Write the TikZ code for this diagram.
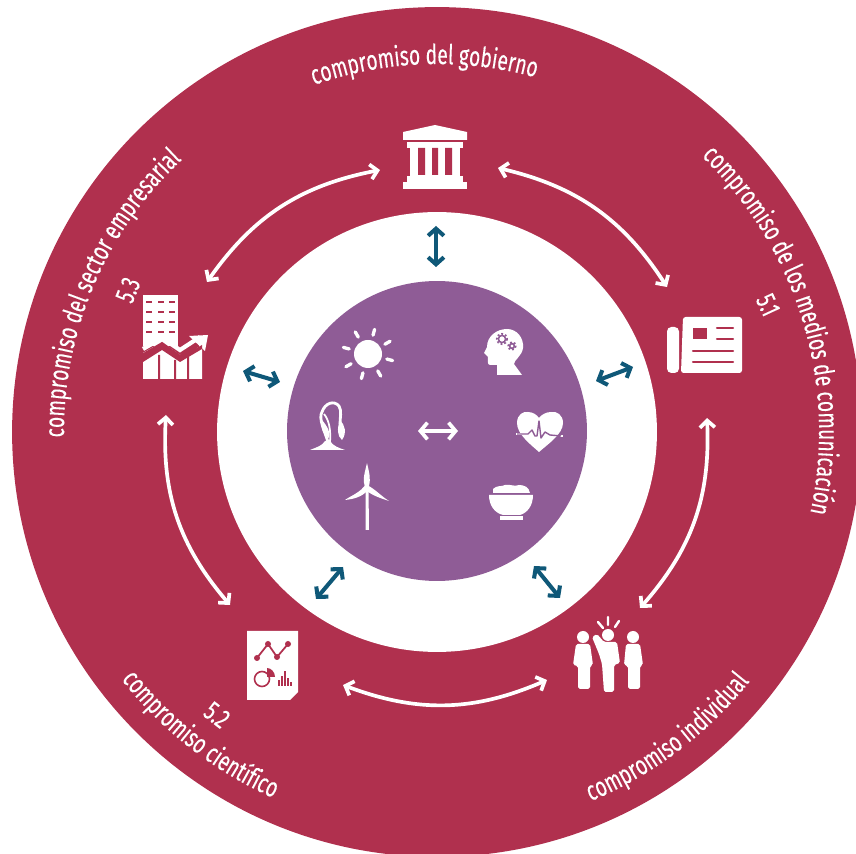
\documentclass[tikz,border=0pt]{standalone}
\usepackage{fontspec}
\usetikzlibrary{arrows.meta,decorations.text}
\newfontfamily\ringfamily[FakeStretch=0.7,FakeBold=0.25]{Fira Sans}
\newcommand{\ringfont}{\fontsize{15.6}{17}\selectfont\ringfamily}
\definecolor{ringred}{HTML}{B0304E}
\definecolor{corepurple}{HTML}{8F5C96}
\definecolor{linkblue}{HTML}{0F5878}
\tikzset{disk/.style={circle,draw=none,inner sep=0pt},
	ringarrow/.style={draw=white,line width=2.1pt,{Straight Barb[length=4pt,width=8.5pt]}-{Straight Barb[length=4pt,width=8.5pt]}},
	linkarrow/.style={draw=linkblue,line width=2.3pt,{Straight Barb[length=4pt,width=9pt]}-{Straight Barb[length=4pt,width=9pt]}},
	corearrow/.style={draw=white,line width=2.1pt,{Straight Barb[length=4pt,width=9.5pt]}-{Straight Barb[length=4pt,width=9.5pt]}},
	ringtext/.style={decorate,decoration={text along path,text align=center,text={|\ringfont\color{white}|#1}}},
	ringnum/.style={text=white,font=\ringfont,inner sep=0pt},
	icon/.style={fill=white,draw=none},
	cutred/.style={draw=ringred,line cap=round}}

\begin{document}
\begin{tikzpicture}[x=0.02cm,y=-0.02cm]
	\clip (0,0) rectangle (856,854);
	\node[disk,fill=ringred,minimum size=17cm] (outer) at (437,432) {};
	\node[disk,fill=white,minimum size=8.8cm] (middle) at (437,432) {};
	\node[disk,fill=corepurple,minimum size=6cm] (core) at (437,431) {};

	\path[shift={(437,432)},ringtext={compromiso del gobierno}] (-132:368) arc[start angle=-132,end angle=-52,radius=368];
	\path[shift={(437,432)},ringtext={compromiso de los medios de comunicación}] (-77:382) arc[start angle=-77,end angle=43,radius=382];
	\path[shift={(437,432)},ringtext={compromiso del sector empresarial}] (-217:373) arc[start angle=-217,end angle=-97,radius=373];
	\path[shift={(437,432)},ringtext={compromiso científico}] (-192:401) arc[start angle=-192,end angle=-272,radius=401];
	\path[shift={(437,432)},ringtext={compromiso individual}] (93:400) arc[start angle=93,end angle=13,radius=400];
	\node[ringnum,rotate=-65] (numa) at (768,305) {5.1};
	\node[ringnum,rotate=-38] (numb) at (217,715) {5.2};
	\node[ringnum,rotate=68] (numc) at (128,290) {5.3};

	\coordinate (govl) at (380,170);
	\coordinate (govr) at (498,168);
	\coordinate (bizt) at (207,282);
	\coordinate (bizb) at (166,415);
	\coordinate (newst) at (667,287);
	\coordinate (newsb) at (707,418);
	\coordinate (scit) at (230,605);
	\coordinate (scir) at (343,685);
	\coordinate (peopt) at (640,608);
	\coordinate (peopl) at (547,680);
	\draw[ringarrow] (govl) to[bend right=22] (bizt);
	\draw[ringarrow] (govr) to[bend left=22] (newst);
	\draw[ringarrow] (newsb) to[bend left=22] (peopt);
	\draw[ringarrow] (scir) to[bend right=22] (peopl);
	\draw[ringarrow] (bizb) to[bend right=22] (scit);

	\coordinate (topa) at (436,226);
	\coordinate (topb) at (436,267);
	\coordinate (lefta) at (243,371);
	\coordinate (leftb) at (280,382);
	\coordinate (righta) at (596,381);
	\coordinate (rightb) at (633,367);
	\coordinate (lowla) at (316,599);
	\coordinate (lowlb) at (343,567);
	\coordinate (lowra) at (534,566);
	\coordinate (lowrb) at (560,598);
	\coordinate (corea) at (418,431);
	\coordinate (coreb) at (458,431);
	\draw[linkarrow] (topa) -- (topb);
	\draw[linkarrow] (lefta) -- (leftb);
	\draw[linkarrow] (righta) -- (rightb);
	\draw[linkarrow] (lowla) -- (lowlb);
	\draw[linkarrow] (lowra) -- (lowrb);
	\draw[corearrow] (corea) -- (coreb);

	\fill[icon] (403,132) -- (435,125) -- (467,132) -- (467,140) -- (403,140) -- cycle;
	\fill[icon] (407,142) rectangle (463,148);
	\fill[icon] (410,148) rectangle (460,176);
	\fill[ringred] (418,148) rectangle (425,175) (432,148) rectangle (438,175) (445,148) rectangle (452,175);
	\fill[icon] (407,176) rectangle (463,182);
	\fill[icon] (403,182) rectangle (467,189);

	\fill[icon] (143,295) rectangle (178,346);
	\foreach \winy in {302,312,322,332}
		\foreach \winx in {146,158,169}
			\fill[ringred] (\winx,\winy-1.3) rectangle (\winx+6,\winy+1.3);
	\fill[icon] (143,353) -- (162,342) -- (180,355) -- (202,341) -- (202,379) -- (143,379) -- cycle;
	\fill[ringred] (158,355) rectangle (160,379) (174,360) rectangle (176,379) (187,352) rectangle (189,379);
	\draw[ringred,line width=3pt] (140,358) -- (162,345) -- (180,358) -- (198,344);
	\draw[white,line width=2.4pt] (143,349) -- (162,338) -- (180,350) -- (200,337);
	\fill[icon] (208,335) -- (189,336) -- (205,351) -- cycle;
	\fill[ringred] (143,356) -- (143,362) -- (162,350) -- (180,362) -- (202,349) -- (202,345) -- (180,358) -- (162,346) -- cycle;

	\fill[icon,rounded corners=1.5pt] (683,317) -- (742,317) -- (742,373) -- (681,373) -- cycle;
	\fill[icon,rounded corners=2.5pt] (667,327) -- (679,327) -- (679,373) -- (667,373) -- cycle;
	\fill[ringred] (693,328) rectangle (707,339);
	\draw[cutred,line width=1.2pt] (717,328) -- (733,328) (717,339) -- (733,339) (693,351) -- (733,351) (693,362) -- (733,362);

	\fill[icon] (247,631) -- (298,631) -- (298,692) -- (290,700) -- (247,700) -- cycle;
	\draw[cutred,line width=1pt] (257,658) -- (268,644) -- (277,657) -- (288,644);
	\foreach \dotx/\doty in {257/658,268/644,277/657,288/644}
		\fill[ringred] (\dotx,\doty) circle (3);
	\draw[ringred,line width=0.9pt] (262,679) circle (7.5);
	\fill[ringred] (267,668) .. controls (271,668) and (275,672) .. (275,677) -- (267,677) -- cycle;
	\draw[ringred,line width=0.8pt] (279,686) -- (279,680) (282,686) -- (282,676) (285,686) -- (285,671) (288,686) -- (288,678) (291,686) -- (291,682);

	\foreach \headx/\heady in {583/637,608/635,633/637}
		\fill[icon] (\headx,\heady) circle (6);
	\fill[icon,rounded corners=1pt] (576,644) -- (590,644) -- (593,665) -- (590,666) -- (590,689) -- (578,689) -- (578,666) -- (573,665) -- cycle;
	\fill[icon,rounded corners=1pt] (626,644) -- (640,644) -- (643,665) -- (640,666) -- (640,689) -- (628,689) -- (628,666) -- (624,665) -- cycle;
	\fill[icon,rounded corners=1pt] (592,637) -- (597,634) -- (604,642) -- (617,642) -- (620,663) -- (614,665) -- (614,692) -- (604,692) -- (602,664) -- (599,654) -- cycle;
	\draw[white,line width=1.4pt,line cap=round] (598,622) -- (603,628) (608,617) -- (608,625) (619,621) -- (615,627);

	\fill[icon] (368,354) circle (14);
	\foreach \rayang in {-75,-30,15,60,105,150,195,240}
		\draw[white,line width=1.9pt,line cap=round,shift={(368,354)}] (\rayang:19.5) -- (\rayang:25.5);

	\fill[icon] (522,375) -- (497,375) -- (497,365) -- (490,365) .. controls (487,365) and (488,360) .. (488,357) -- (484,353) -- (487,347) .. controls (487,336) and (497,329) .. (507,329) .. controls (517,329) and (524,338) .. (523,348) .. controls (522,356) and (514,360) .. (514,364) -- cycle;
	\draw[corepurple,line width=0.9pt] (502,339) circle (3.6) (512,346) circle (2.4);
	\draw[corepurple,line width=1pt,dash pattern=on 1pt off 1.2pt] (502,339) circle (5.2) (512,346) circle (3.8);

	\fill[icon] (539,452) .. controls (530,444) and (517,434) .. (517,423) .. controls (517,414) and (524,411) .. (528,412) .. controls (533,412) and (537,415) .. (539,418) .. controls (541,415) and (546,412) .. (551,412) .. controls (557,411) and (563,415) .. (563,423) .. controls (563,434) and (548,444) .. (539,452) -- cycle;
	\draw[white,line width=0.8pt] (516,434) -- (523,434) (560,436) -- (563,436);
	\draw[corepurple,line width=0.8pt,line join=round] (517,434) -- (528,434) -- (532,430) -- (535,436) -- (537,436) -- (539,421) -- (541,438) -- (545,432) -- (550,435) -- (561,436);

	\fill[icon] (493,489) .. controls (497,485) and (501,487) .. (505,485) .. controls (510,484) and (515,487) .. (519,485) .. controls (524,485) and (529,487) .. (530,493) -- (493,493) -- cycle;
	\fill[icon] (489,495) -- (533,495) .. controls (533,506) and (527,513) .. (520,515) -- (503,515) .. controls (495,513) and (489,506) .. (489,495) -- cycle;
	\fill[icon] (500,516) rectangle (523,520);

	\fill[icon] (365.5,530) -- (365.5,488) -- (368.5,488) -- (369,530) -- cycle;
	\fill[icon] (367,463) .. controls (369,472) and (371,478) .. (369,486) -- (365,487) .. controls (362,480) and (365,472) .. (367,463) -- cycle;
	\fill[icon] (389,501) .. controls (381,496) and (375,489) .. (367,485) -- (366,490) .. controls (371,495) and (380,498) .. (389,501) -- cycle;
	\fill[icon] (345,500) .. controls (352,495) and (360,493) .. (366,484) -- (368,490) .. controls (362,497) and (354,499) .. (345,500) -- cycle;

	\fill[icon] (310,450) .. controls (317,447) and (322,446) .. (325,441) -- (330,441) .. controls (333,446) and (339,448) .. (345,450) -- cycle;
	\draw[white,line width=1.6pt] (328,442) .. controls (325,432) and (318,418) .. (322,412) .. controls (325,403) and (334,400) .. (339,406) .. controls (342,411) and (340,418) .. (340,424);
	\fill[icon] (340,420) .. controls (345,425) and (347,433) .. (342,440) .. controls (337,436) and (337,428) .. (340,420) -- cycle;
	\draw[white,line width=1pt] (330,442) .. controls (331,430) and (329,420) .. (324,414);
	\fill[icon] (322,420) .. controls (327,426) and (331,432) .. (329,438) .. controls (323,434) and (320,428) .. (322,420) -- cycle;
\end{tikzpicture}
\end{document}
